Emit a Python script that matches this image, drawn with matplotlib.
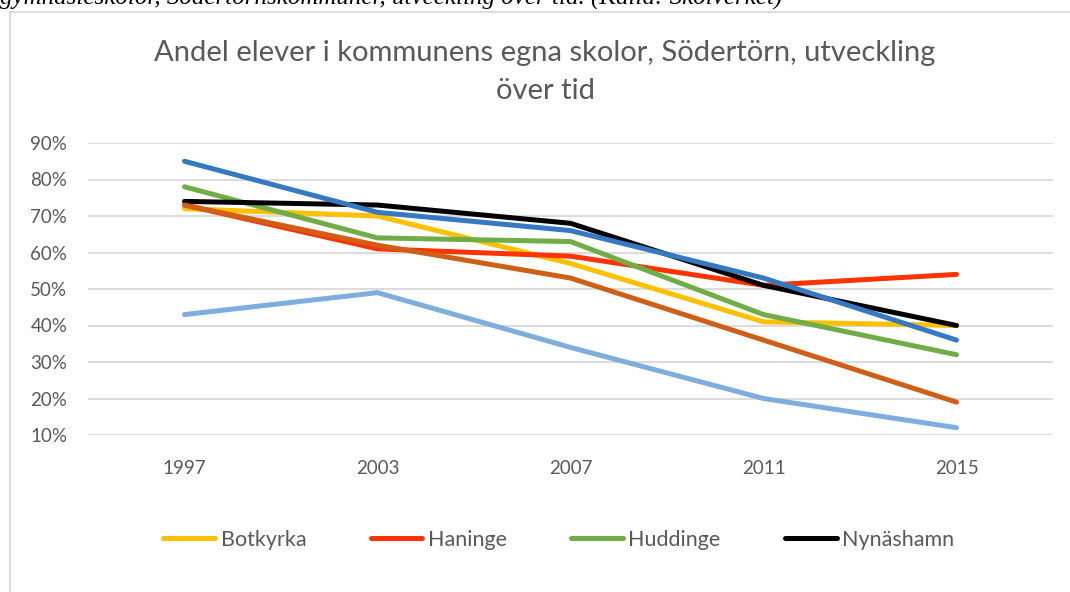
import matplotlib.pyplot as plt
from matplotlib.lines import Line2D

# data (share of pupils, %)
years = ["1997", "2003", "2007", "2011", "2015"]
botkyrka = [72, 70, 57, 41, 40]
haninge = [73, 61, 59, 51, 54]
huddinge = [78, 64, 63, 43, 32]
nynashamn = [74, 73, 68, 51, 40]
# three more series are drawn, their legend entries are cut off in the picture
serie_blue = [85, 71, 66, 53, 36]
serie_orange = [73, 62, 53, 36, 19]
serie_lightblue = [43, 49, 34, 20, 12]

legend_names = ["Botkyrka", "Haninge", "Huddinge", "Nynäshamn"]
y_ticks = [10, 20, 30, 40, 50, 60, 70, 80, 90]

title = "Andel elever i kommunens egna skolor, Södertörn, utveckling\növer tid"
caption = "gymnasieskolor, Södertörnskommuner, utveckling över tid. (Källa: Skolverket)"

plt.rcParams["font.family"] = ["Lato", "DejaVu Sans"]
text_grey = "#595959"
grid_grey = "#d9d9d9"

fig = plt.figure(figsize=(10.7, 5.92), dpi=100)
ax = fig.add_axes([88 / 1070, 1 - 435 / 592, 965 / 1070, 292 / 592])

series = [
    (botkyrka, "#FFC000", legend_names[0]),
    (haninge, "#FF3300", legend_names[1]),
    (huddinge, "#70AD47", legend_names[2]),
    (nynashamn, "#000000", legend_names[3]),
    (serie_blue, "#3479C1", None),
    (serie_orange, "#CF5F17", None),
    (serie_lightblue, "#7DAEDD", None),
]
x = list(range(len(years)))
for vals, col, name in series:
    ax.plot(x, [v / 100 for v in vals], color=col, lw=3.6,
            solid_capstyle="round", solid_joinstyle="round", zorder=3)

ax.set_xlim(-0.5, len(years) - 0.5)
ax.set_ylim(0.1, 0.9)
ax.set_yticks([t / 100 for t in y_ticks])
ax.set_yticklabels([f"{t}%" for t in y_ticks])
ax.set_xticks(x)
ax.set_xticklabels(years)
ax.grid(axis="y", color=grid_grey, lw=1.3)
ax.set_axisbelow(True)
for s in ax.spines.values():
    s.set_visible(False)
ax.tick_params(length=0, labelsize=13.5, labelcolor=text_grey)
ax.tick_params(axis="y", pad=15)
ax.tick_params(axis="x", pad=18)

fig.text(545 / 1070, 1 - 72 / 592, title, ha="center", va="center",
         fontsize=21, color=text_grey, linespacing=1.6)

handles = [Line2D([], [], color=c, lw=3.6, solid_capstyle="round")
           for _, c, n in series if n]
fig.legend(handles, legend_names, loc="center", bbox_to_anchor=(0.5224, 1 - 540 / 592),
           ncol=4, frameon=False, fontsize=15.5, labelcolor=text_grey,
           handlelength=2.4, handletextpad=0.25, columnspacing=3.0)

# chart frame, partly outside the crop
fig.add_artist(Line2D([10 / 1070, 10 / 1070], [0, 1 - 12 / 592], color=grid_grey, lw=1.3))
fig.add_artist(Line2D([10 / 1070, 1], [1 - 12 / 592, 1 - 12 / 592], color=grid_grey, lw=1.3))

# caption of the document, cut at the top of the picture
fig.text(0.0, 1 - 5 / 592, caption, ha="left", va="baseline", fontsize=18,
         style="italic", family="Liberation Serif", color="black")

fig.savefig("out.png", dpi=100)
